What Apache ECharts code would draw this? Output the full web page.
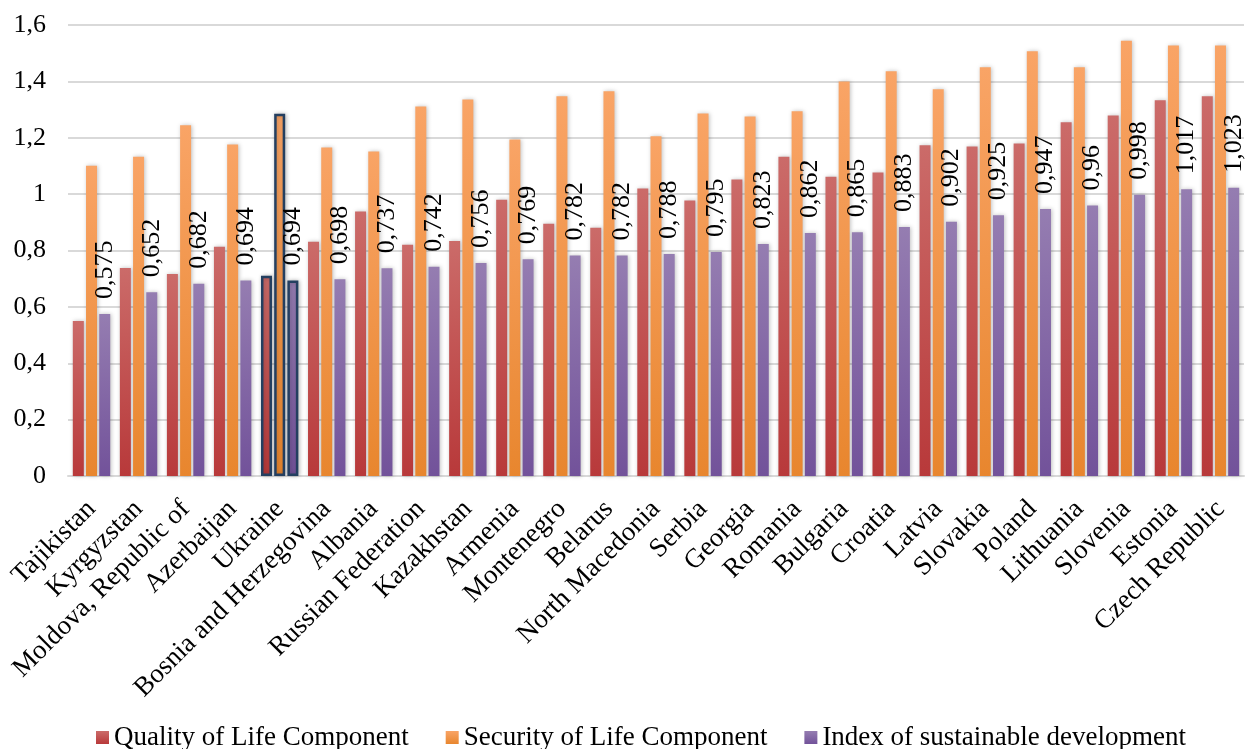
<!DOCTYPE html>
<html>
<head>
<meta charset="utf-8">
<script src="https://cdn.jsdelivr.net/npm/echarts@6/dist/echarts.min.js"></script>
<style>
html,body{margin:0;padding:0;background:#fff;}
#chart{width:1248px;height:749px;}
</style>
</head>
<body>
<div id="chart"></div>
<script>
var categories = ["Tajikistan","Kyrgyzstan","Moldova, Republic of","Azerbaijan","Ukraine","Bosnia and Herzegovina","Albania","Russian Federation","Kazakhstan","Armenia","Montenegro","Belarus","North Macedonia","Serbia","Georgia","Romania","Bulgaria","Croatia","Latvia","Slovakia","Poland","Lithuania","Slovenia","Estonia","Czech Republic"];
var qualityValues = [0.55,0.738,0.717,0.813,0.71,0.831,0.938,0.82,0.834,0.98,0.895,0.881,1.02,0.977,1.052,1.133,1.062,1.077,1.173,1.169,1.18,1.255,1.279,1.333,1.347];
var securityValues = [1.101,1.133,1.244,1.176,1.285,1.165,1.151,1.311,1.336,1.194,1.347,1.365,1.205,1.286,1.275,1.294,1.40,1.436,1.372,1.45,1.507,1.45,1.544,1.527,1.527];
var indexValues = [0.575,0.652,0.682,0.694,0.694,0.698,0.737,0.742,0.756,0.769,0.782,0.782,0.788,0.795,0.823,0.862,0.865,0.883,0.902,0.925,0.947,0.96,0.998,1.017,1.023];
var yTicks = [0,0.2,0.4,0.6,0.8,1,1.2,1.4,1.6];
var seriesNames = ["Quality of Life Component","Security of Life Component","Index of sustainable development"];
var highlighted = "Ukraine";
</script>
<script>
function grad(top, bottom){
  return {type:'linear',x:0,y:0,x2:0,y2:1,colorStops:[{offset:0,color:top},{offset:1,color:bottom}]};
}
function comma(v){ return String(v).replace('.', ','); }
var fontFam = '"Liberation Serif","Times New Roman",serif';
var fills = [
  grad('#CB6B69','#B8393A'),
  grad('#F9A466','#E8862E'),
  grad('#957DB1','#72529A')
];
function buildData(values){
  return values.map(function(v, i){
    var d = {value: v};
    if (categories[i] === highlighted){
      d.itemStyle = {borderColor:'#243F60', borderWidth:2.5};
    }
    return d;
  });
}
var valueSets = [qualityValues, securityValues, indexValues];
var series = valueSets.map(function(vals, k){
  var s = {
    name: seriesNames[k],
    type: 'bar',
    barWidth: 11,
    barGap: '20%',
    data: buildData(vals),
    itemStyle: {color: fills[k], shadowBlur: 4, shadowColor: 'rgba(0,0,0,0.25)', shadowOffsetX: 1, shadowOffsetY: 0},
    emphasis: {disabled: true},
    animation: false
  };
  if (k === 2){
    s.label = {
      show: true, position: 'top', rotate: 90, align: 'left', verticalAlign: 'middle',
      distance: 15, color: '#000', fontFamily: fontFam, fontSize: 26,
      formatter: function(p){ return comma(p.value); }
    };
  }
  return s;
});
var chart = echarts.init(document.getElementById('chart'), null, {renderer:'canvas'});
chart.setOption({
  backgroundColor: '#fff',
  animation: false,
  grid: {left: 68, right: 4, top: 25, bottom: 273, containLabel: false},
  legend: {
    top: 719, left: 91,
    itemWidth: 13, itemHeight: 13, itemGap: 37,
    icon: 'rect',
    textStyle: {fontFamily: fontFam, fontSize: 27, color: '#000'},
    data: seriesNames.map(function(n, k){ return {name: n, itemStyle: {color: fills[k]}}; })
  },
  xAxis: {
    type: 'category',
    data: categories,
    axisLine: {lineStyle: {color: '#D9D9D9', width: 2}},
    axisTick: {show: false},
    axisLabel: {interval: 0, rotate: 45, margin: 29, color: '#000', fontFamily: fontFam, fontSize: 27}
  },
  yAxis: {
    type: 'value',
    min: yTicks[0], max: yTicks[yTicks.length-1], interval: 0.2,
    axisLine: {show: false},
    axisTick: {show: false},
    splitLine: {lineStyle: {color: '#D9D9D9', width: 2}},
    axisLabel: {margin: 22, color: '#000', fontFamily: fontFam, fontSize: 26,
      formatter: function(v){ return comma(+v.toFixed(1)); }}
  },
  series: series
});
</script>
</body>
</html>
